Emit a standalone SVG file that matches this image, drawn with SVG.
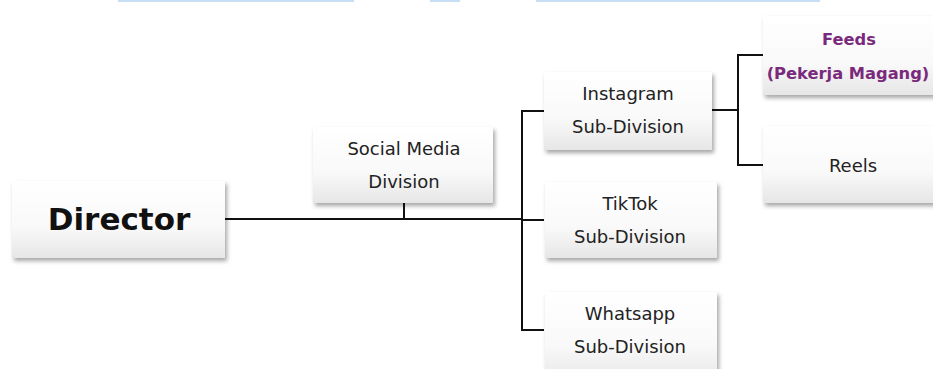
<svg xmlns="http://www.w3.org/2000/svg" width="933" height="369" viewBox="0 0 933 369">
<style>
.box{fill:url(#g);filter:url(#sh)}
.t{font-family:"DejaVu Sans","Liberation Sans",sans-serif;font-size:18px;fill:#222;text-anchor:middle}
.p{font-family:"DejaVu Sans","Liberation Sans",sans-serif;font-size:16.3px;font-weight:bold;fill:#7a2a7c;text-anchor:middle}
.d{font-family:"DejaVu Sans","Liberation Sans",sans-serif;font-size:31px;font-weight:bold;fill:#111;text-anchor:middle}
.c{fill:none;stroke:#111;stroke-width:2}
.bar{fill:#c8def4}
</style>
<defs>
<linearGradient id="g" x1="0" y1="0" x2="0" y2="1">
<stop offset="0" stop-color="#ffffff"/>
<stop offset="0.6" stop-color="#f9f9f9"/>
<stop offset="1" stop-color="#e6e6e6"/>
</linearGradient>
<filter id="sh" x="-10%" y="-10%" width="130%" height="140%">
<feDropShadow dx="2" dy="3" stdDeviation="2" flood-color="#000" flood-opacity="0.35"/>
</filter>
</defs>
<rect class="bar" x="118" y="0" width="236" height="2"/>
<rect class="bar" x="430" y="0" width="30" height="2"/>
<rect class="bar" x="536" y="0" width="284" height="2"/>
<g id="connectors">
<path class="c" d="M225 219H522"/>
<path class="c" d="M404 203V219"/>
<path class="c" d="M544 111H522V330H544"/>
<path class="c" d="M522 220H544"/>
<path class="c" d="M712 110H738"/>
<path class="c" d="M763 55H738V165H763"/>
</g>
<g id="director">
<rect class="box" x="12" y="181" width="213" height="77"/>
<text class="d" x="119" y="230">Director</text>
</g>
<g id="social-media">
<rect class="box" x="313" y="127" width="180" height="76"/>
<text class="t" x="404" y="155">Social Media</text>
<text class="t" x="404" y="188">Division</text>
</g>
<g id="instagram">
<rect class="box" x="544" y="72" width="168" height="78"/>
<text class="t" x="628" y="100">Instagram</text>
<text class="t" x="628" y="133">Sub-Division</text>
</g>
<g id="tiktok">
<rect class="box" x="545" y="182" width="172" height="76"/>
<text class="t" x="630" y="210">TikTok</text>
<text class="t" x="630" y="243">Sub-Division</text>
</g>
<g id="whatsapp">
<rect class="box" x="545" y="292" width="172" height="90"/>
<text class="t" x="630" y="320">Whatsapp</text>
<text class="t" x="630" y="353">Sub-Division</text>
</g>
<g id="feeds">
<rect class="box" x="763" y="16" width="180" height="79"/>
<text class="p" x="849" y="45">Feeds</text>
<text class="p" x="848" y="79">(Pekerja Magang)</text>
</g>
<g id="reels">
<rect class="box" x="763" y="126" width="180" height="77"/>
<text class="t" x="853" y="172">Reels</text>
</g>
</svg>
